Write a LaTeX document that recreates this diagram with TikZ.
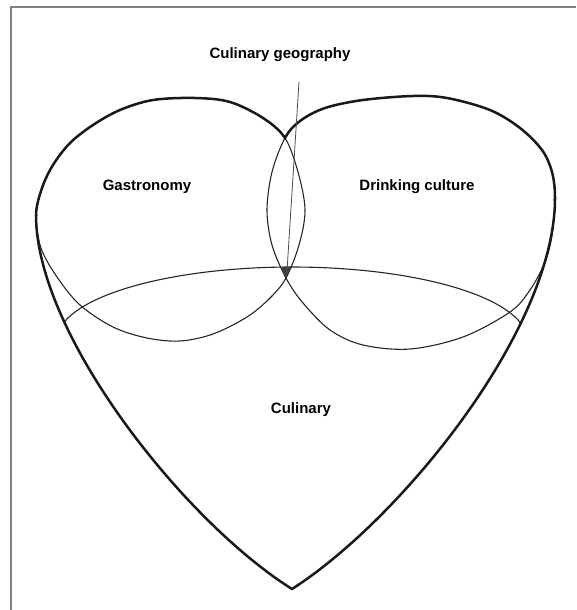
\documentclass[tikz,border=0pt]{standalone}
\usepackage{fontspec}
\setmainfont{Liberation Sans}
\newcommand\leftcirc{plot[smooth cycle, tension=0.55] coordinates {(36,215) (41,248) (57,277) (80,305) (113,327) (147,338) (180,341) (213,334) (247,317) (270,298) (286,278) (299,245) (305,210) (298,172) (285,138) (263,118) (230,102) (195,98) (153,100) (120,110) (93,125) (70,143) (53,165) (42,188)}}
\newcommand\rightcirc{plot[smooth cycle, tension=0.55] coordinates {(555,198) (552,235) (545,262) (530,290) (510,312) (463,337) (410,349) (363,345) (330,330) (303,303) (286,278) (272,245) (267,210) (272,172) (285,138) (300,121) (325,108) (363,100) (413,96) (447,98) (490,110) (520,128) (542,150) (552,172)}}
\newcommand\heartlow{(36,215) .. controls (36,335) and (185,522) .. (292,589) .. controls (400,520) and (555,330) .. (555,198)}
\begin{document}
\begin{tikzpicture}[x=1pt,y=-1pt,
  thinl/.style={line width=1.1pt, black!85},
  thickl/.style={line width=2.5pt, black!90, line join=round},
  lbl/.style={font=\bfseries\fontsize{15}{17}\selectfont, inner sep=0pt},
  frameline/.style={line width=1.4pt, black!50},
  leader/.style={line width=0.8pt, black!70}]
\useasboundingbox (0,0) rectangle (576,610);
% frame
\draw[frameline] (11,610) -- (11,7) -- (576,7);
% thin circles
\draw[thinl] \leftcirc;
\draw[thinl] \rightcirc;
% culinary arc
\begin{scope}
  \clip \heartlow -- cycle;
  \draw[thinl] plot[domain=5:175, samples=90, smooth] ({292+235*cos(\x)}, {340-73*sin(\x)});
\end{scope}
% thick outline: tops of the lobes
\begin{scope}
  \clip (0,0) rectangle (576,215);
  \begin{scope}[even odd rule]
    \clip (-20,-20) rectangle (600,700) \rightcirc;
    \draw[thickl] \leftcirc;
  \end{scope}
\end{scope}
\begin{scope}
  \clip (0,0) rectangle (576,200);
  \begin{scope}[even odd rule]
    \clip (-20,-20) rectangle (600,700) \leftcirc;
    \draw[thickl] \rightcirc;
  \end{scope}
\end{scope}
% thick outline: lower heart
\draw[thickl] \heartlow;
% dark triangle
\fill[black!75] (280,267) -- (292,267) -- (286,277) -- cycle;
% labels
\node[lbl] (geo) at (280,55) {Culinary geography};
\node[lbl] (gastro) at (147,187) {Gastronomy};
\node[lbl] (drink) at (417,187) {Drinking culture};
\node[lbl] (cul) at (301,410) {Culinary};
\coordinate (lstart) at (299,82);
\coordinate (tri) at (287,271);
\draw[leader] (lstart) -- (tri);
\end{tikzpicture}
\end{document}
